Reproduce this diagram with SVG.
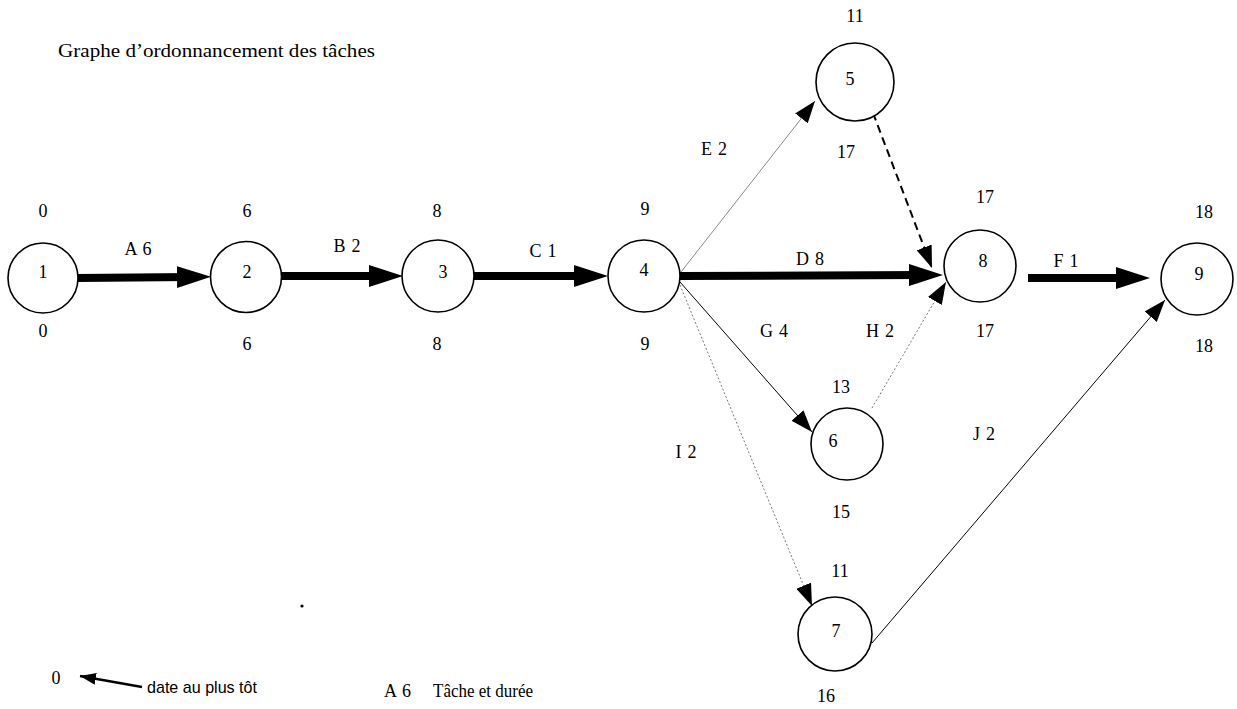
<svg xmlns="http://www.w3.org/2000/svg" width="1237" height="709" viewBox="0 0 1237 709">
<style>
text{font-family:"Liberation Serif","Times New Roman",serif;font-size:18px;fill:#000;text-anchor:middle}
.lbl{word-spacing:1.5px}
.node circle{fill:#fff;stroke:#000;stroke-width:1.6}
.thick{stroke:#000;stroke-width:8;fill:none}
.thin{stroke:#000;stroke-width:1;fill:none}
.gray{stroke:#888;stroke-width:1;fill:none}
.dot{stroke:#777;stroke-width:1;stroke-dasharray:2 2;fill:none}
.dash{stroke:#000;stroke-width:2;stroke-dasharray:8 5;fill:none}
.left{text-anchor:start}
</style>
<defs>
<marker id="big" markerUnits="userSpaceOnUse" viewBox="0 0 34 24" markerWidth="34" markerHeight="24" refX="14" refY="12" orient="auto"><path d="M0,1 L34,12 L0,23 z" fill="#000"/></marker>
<marker id="small" markerUnits="userSpaceOnUse" viewBox="0 0 22 16" markerWidth="22" markerHeight="16" refX="22" refY="8" orient="auto"><path d="M0,0 L22,8 L0,16 z" fill="#000"/></marker>
<marker id="leg" markerUnits="userSpaceOnUse" viewBox="0 0 16 12" markerWidth="16" markerHeight="12" refX="16" refY="6" orient="auto"><path d="M0,0 L16,6 L0,12 z" fill="#000"/></marker>
</defs>

<text class="left" x="58" y="57" textLength="317" lengthAdjust="spacingAndGlyphs" style="font-size:19px">Graphe d’ordonnancement des tâches</text>

<g id="connectors">
  <line class="thick" x1="78" y1="278" x2="191" y2="277" marker-end="url(#big)"/>
  <line class="thick" x1="282" y1="276" x2="383" y2="276" marker-end="url(#big)"/>
  <line class="thick" x1="474" y1="276" x2="588" y2="276" marker-end="url(#big)"/>
  <line class="thick" x1="680" y1="276" x2="923" y2="275" marker-end="url(#big)"/>
  <line class="thick" x1="1028" y1="278" x2="1130" y2="278" marker-end="url(#big)"/>
  <line class="gray" x1="681" y1="272" x2="815" y2="101" marker-end="url(#small)"/>
  <line class="dash" x1="873" y1="113" x2="932" y2="268" marker-end="url(#small)"/>
  <line class="thin" x1="680" y1="282" x2="812" y2="432" marker-end="url(#small)"/>
  <line class="dot" x1="872" y1="408" x2="946" y2="282" marker-end="url(#small)"/>
  <line class="dot" x1="680" y1="285" x2="812" y2="606" marker-end="url(#small)"/>
  <line class="thin" x1="872" y1="643" x2="1165" y2="300" marker-end="url(#small)"/>
  <text class="lbl" x="138" y="255">A 6</text>
  <text class="lbl" x="347" y="252">B 2</text>
  <text class="lbl" x="543" y="257">C 1</text>
  <text class="lbl" x="810" y="265">D 8</text>
  <text class="lbl" x="714" y="155">E 2</text>
  <text class="lbl" x="1066" y="267">F 1</text>
  <text class="lbl" x="774" y="337">G 4</text>
  <text class="lbl" x="880" y="337">H 2</text>
  <text class="lbl" x="686" y="458">I 2</text>
  <text class="lbl" x="984" y="440">J 2</text>
</g>

<g id="node1" class="node"><circle cx="43" cy="278" r="35"/><text x="43" y="278">1</text><text x="43" y="217">0</text><text x="43" y="337">0</text></g>
<g id="node2" class="node"><circle cx="246" cy="277" r="35.5"/><text x="247" y="278">2</text><text x="247" y="217">6</text><text x="247" y="350">6</text></g>
<g id="node3" class="node"><circle cx="438" cy="276" r="36"/><text x="443" y="278">3</text><text x="437" y="217">8</text><text x="437" y="350">8</text></g>
<g id="node4" class="node"><circle cx="644" cy="276" r="36"/><text x="644" y="276">4</text><text x="645" y="215">9</text><text x="645" y="350">9</text></g>
<g id="node5" class="node"><circle cx="855" cy="82" r="39"/><text x="850" y="85">5</text><text x="855" y="22">11</text><text x="846" y="158">17</text></g>
<g id="node6" class="node"><circle cx="847" cy="444" r="36"/><text x="833" y="447">6</text><text x="841" y="393">13</text><text x="841" y="518">15</text></g>
<g id="node7" class="node"><circle cx="835" cy="634" r="37"/><text x="836" y="637">7</text><text x="840" y="577">11</text><text x="826" y="702">16</text></g>
<g id="node8" class="node"><circle cx="980" cy="266" r="36"/><text x="983" y="267">8</text><text x="985" y="203">17</text><text x="985" y="337">17</text></g>
<g id="node9" class="node"><circle cx="1197" cy="279" r="36"/><text x="1199" y="280">9</text><text x="1204" y="218">18</text><text x="1204" y="352">18</text></g>

<circle cx="302" cy="606" r="1.6" fill="#000"/>

<g id="legend">
  <text x="56" y="684">0</text>
  <line x1="142" y1="687" x2="80" y2="676" stroke="#000" stroke-width="2.4" marker-end="url(#leg)"/>
  <text class="left" x="147" y="693" textLength="110" lengthAdjust="spacingAndGlyphs" style="font-family:'Liberation Sans Narrow','Liberation Sans',sans-serif;font-size:17px">date au plus tôt</text>
  <text class="left lbl" x="384" y="697">A 6</text>
  <text class="left" x="433" y="697" textLength="100" lengthAdjust="spacingAndGlyphs">Tâche et durée</text>
</g>
</svg>
